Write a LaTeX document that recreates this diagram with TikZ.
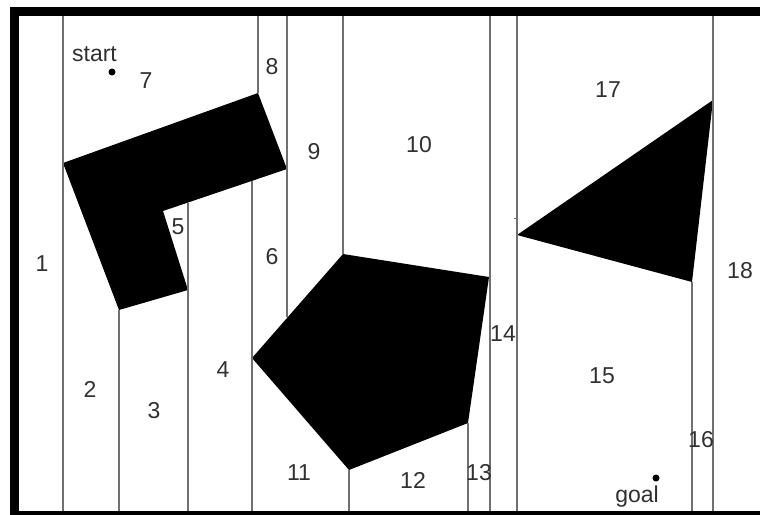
\documentclass[tikz,border=0pt]{standalone}
\usepackage{fontspec}
\setmainfont{Liberation Sans}
\usetikzlibrary{calc}
\definecolor{Cut}{HTML}{707070}
\definecolor{Ink}{HTML}{303030}
\tikzset{obstacle/.style={fill=black,draw=none},cutline/.style={draw=Cut,line width=1.3pt},cell/.style={text=Ink,font=\fontsize{23}{23}\selectfont,inner sep=0pt,anchor=base},spot/.style={circle,fill=black,minimum size=7pt,inner sep=0pt},wall/.style={draw=black,line width=9pt}}

\begin{document}
\begin{tikzpicture}[x=1pt,y=-1pt]
        \useasboundingbox (0,0) rectangle (760,514);
        \clip (0,0) rectangle (760,514);
        \coordinate (top) at (0,16);
        \coordinate (bot) at (0,511);
        % obstacles
        \coordinate (a1) at (63,163);
        \coordinate (a2) at (258,93);
        \coordinate (a3) at (287,169);
        \coordinate (a4) at (163,211);
        \coordinate (a5) at (188,290);
        \coordinate (a6) at (119,310);
        \coordinate (p1) at (343,254);
        \coordinate (p2) at (489,277);
        \coordinate (p3) at (468,423);
        \coordinate (p4) at (349,470);
        \coordinate (p5) at (252,358);
        \coordinate (t1) at (517,235);
        \coordinate (t2) at (713,100);
        \coordinate (t3) at (692,282);
        \fill[obstacle] (a1)--(a2)--(a3)--(a4)--(a5)--(a6)--cycle;
        \fill[obstacle] (p1)--(p2)--(p3)--(p4)--(p5)--cycle;
        \fill[obstacle] (t1)--(t2)--(t3)--cycle;
        % cell boundaries
        \coordinate (n5) at (188,203);
        \coordinate (n6) at (252,181);
        \coordinate (n9) at (287,317);
        \draw[cutline] (a1 |- top)--(a1 |- bot);
        \draw[cutline] (a6)--(a6 |- bot);
        \draw[cutline] (n5)--(n5 |- bot);
        \draw[cutline] (n6)--(n6 |- bot);
        \draw[cutline] (a2 |- top)--(a2);
        \draw[cutline] (n9 |- top)--(n9);
        \draw[cutline] (p1 |- top)--(p1);
        \draw[cutline] (p4)--(p4 |- bot);
        \draw[cutline] (p3)--(p3 |- bot);
        \draw[cutline] ([xshift=1pt]p2 |- top)--([xshift=1pt]p2 |- bot);
        \draw[cutline] (t1 |- top)--(t1 |- bot);
        \draw[cutline] (t3)--(t3 |- bot);
        \draw[cutline] (t2 |- top)--(t2 |- bot);
        \draw[cutline,line width=.8pt] ($(t1 |- 0,218)+(-3,0)$)--(t1 |- 0,218);
        % cell numbers
        \foreach \n/\x/\y in {1/42/271,2/90/397,3/154/418,4/223/377,5/178/234,6/272/264,7/146/88,8/272/74,9/314/159,10/419/152,11/299/480,12/413/488,13/479/480,14/503/341,15/602/383,16/701/447,17/608/97,18/740/278}
          \node[cell] (c\n) at (\x,\y) {\n};
        \node[cell] (start) at (94.5,61) {start};
        \node[spot] (sdot) at (112,72) {};
        \node[cell] (goal) at (637,502) {goal};
        \node[spot] (gdot) at (656,478) {};
        % border
        \draw[wall] (14.5,11.5) rectangle (790,515.5);
      \end{tikzpicture}
\end{document}
